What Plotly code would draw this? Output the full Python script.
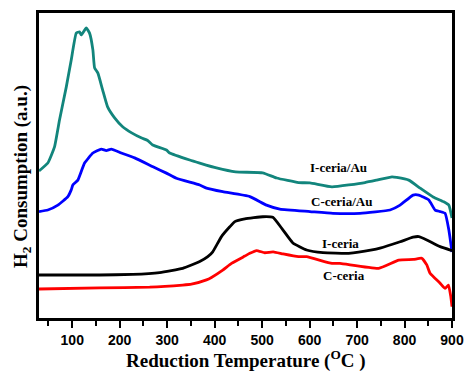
import plotly.graph_objects as go

# Temperature (°C) and H2 consumption (a.u.)
t_iceria_au = [30, 48.6, 62.7, 73.2, 87.4, 97.9, 108.5, 115.4, 119.0, 129.6, 136.5, 143.5, 147.1, 154.1,
               164.0, 174.5, 189.3, 206.2, 225.2, 246.3, 258.9, 269.5, 298.4, 305.3, 347.5, 368.6, 403.8,
               444.2, 501.2, 530.4, 576.8, 600.7, 647.1, 716.7, 741.4, 773.7, 783.6, 808.9, 832.8, 860.2,
               882.7, 893.3, 900]
v_iceria_au = [48.2, 50.8, 56.1, 64.9, 75.7, 84.6, 93.4, 93.8, 92.8, 95.1, 93.4, 87.9, 82.0, 80.3,
               74.8, 69.2, 65.6, 62.7, 60.7, 59.0, 58.2, 56.7, 55.1, 54.1, 51.8, 50.8, 49.2,
               47.9, 47.6, 45.9, 44.4, 44.3, 43.0, 44.4, 45.2, 46.3, 46.1, 45.2, 42.6, 39.7,
               38.1, 37.0, 32.8]

t_cceria_au = [30, 48.6, 69.7, 90.8, 97.9, 101.3, 111.9, 126.0, 143.5, 161.2, 171.8, 182.3, 203.4, 231.5,
               270.1, 298.4, 319.5, 368.6, 382.8, 417.1, 474.1, 509.3, 537.4, 600.7, 649.2, 706.2, 769.5,
               790.6, 818.0, 830.0, 851.1, 864.4, 875.0, 885.5, 893.3, 900]
v_cceria_au = [34.9, 35.4, 37.0, 39.8, 42.0, 43.6, 45.2, 50.8, 54.1, 55.4, 54.9, 55.4, 54.1, 52.5,
               49.6, 47.5, 45.8, 43.6, 42.6, 41.4, 39.8, 37.0, 35.7, 34.9, 34.3, 34.3, 35.4,
               37.0, 40.3, 40.3, 38.7, 35.4, 34.9, 34.3, 28.9, 21.6]

t_iceria = [30, 157.6, 227.3, 284.2, 332.7, 368.6, 385.5, 396.0, 414.4, 431.9, 442.5, 463.6, 501.5, 522.6,
            543.7, 564.8, 593.7, 628.1, 682.3, 731.5, 748.4, 790.6, 818.0, 830.0, 846.9, 875.0, 900]
v_iceria = [14.1, 14.1, 14.3, 14.9, 16.3, 18.5, 20.1, 21.7, 26.7, 29.9, 31.6, 32.5, 33.2, 33.0,
            28.9, 24.6, 22.3, 21.4, 21.2, 22.3, 22.9, 25.0, 26.5, 26.7, 25.6, 23.4, 22.1]

t_cceria = [30, 157.6, 263.1, 332.7, 351.1, 382.8, 393.3, 417.1, 435.5, 463.6, 474.1, 488.2, 505.7, 523.2,
            544.3, 576.8, 593.7, 647.1, 663.9, 745.6, 787.8, 818.6, 836.3, 846.9, 853.8, 875.0, 885.5,
            892.5, 897.5, 900]
v_cceria = [9.5, 9.9, 10.1, 10.8, 11.1, 12.5, 13.3, 15.7, 17.9, 20.3, 21.2, 22.1, 21.4, 21.7,
            21.0, 20.1, 20.1, 17.9, 17.9, 16.3, 19.0, 19.2, 19.6, 17.4, 14.7, 11.4, 9.7,
            10.8, 7.0, 3.7]

labels = ["I-ceria/Au", "C-ceria/Au", "I-ceria", "C-ceria"]
label_t = [661, 668, 665, 672]
label_v = [49.5, 38.1, 24.5, 14.1]
x_ticks = [100, 200, 300, 400, 500, 600, 700, 800, 900]
x_minor = [50, 150, 250, 350, 450, 550, 650, 750, 850]

series = [
    (t_iceria_au, v_iceria_au, "#12857c"),
    (t_cceria_au, v_cceria_au, "#0000ff"),
    (t_iceria, v_iceria, "#000000"),
    (t_cceria, v_cceria, "#ff0000"),
]

fig = go.Figure()
for (t, v, c), name in zip(series, labels):
    fig.add_trace(go.Scatter(x=t, y=v, mode="lines", name=name,
                             line=dict(color=c, width=2.8, shape="spline", smoothing=0.4)))

for lab, tx, vy in zip(labels, label_t, label_v):
    fig.add_annotation(x=tx, y=vy, text="<b>" + lab + "</b>", showarrow=False,
                       font=dict(family="Liberation Serif", size=13, color="black"))

fig.add_annotation(xref="paper", yref="paper", x=0.5, y=-0.088, xanchor="center", yanchor="top",
                   text="<b>Reduction Temperature (<sup>O</sup>C )</b>", showarrow=False,
                   font=dict(family="Liberation Serif", size=19, color="black"))
fig.add_annotation(xref="paper", yref="paper", x=-0.04, y=0.464, xanchor="center", yanchor="middle",
                   textangle=-90,
                   text="<b>H<sub>2</sub> Consumption (a.u.)</b>", showarrow=False,
                   font=dict(family="Liberation Serif", size=19, color="black"))

fig.update_layout(
    width=464, height=373, autosize=False,
    margin=dict(l=39, r=12, t=13, b=55),
    paper_bgcolor="white", plot_bgcolor="white",
    showlegend=False,
    font=dict(family="Liberation Sans", color="black"),
    xaxis=dict(range=[30, 900], tickvals=x_ticks, ticktext=["<b>%d</b>" % v for v in x_ticks],
               automargin=False,
               ticks="outside", ticklen=7, tickwidth=2,
               tickcolor="black", showline=True, linewidth=2.5, linecolor="black", mirror=True,
               showgrid=False, zeroline=False,
               tickfont=dict(family="Liberation Sans", size=14, color="black"),
               minor=dict(tickvals=x_minor, ticks="outside",
                          ticklen=5, tickwidth=2, tickcolor="black")),
    yaxis=dict(range=[0, 100], showticklabels=False, ticks="", showline=True, linewidth=2.5,
               automargin=False,
               linecolor="black", mirror=True, showgrid=False, zeroline=False),
)

fig.write_html("out.html", config={"displayModeBar": False, "responsive": False},
               post_script="document.body.style.margin='0px';document.body.style.overflow='hidden';")
